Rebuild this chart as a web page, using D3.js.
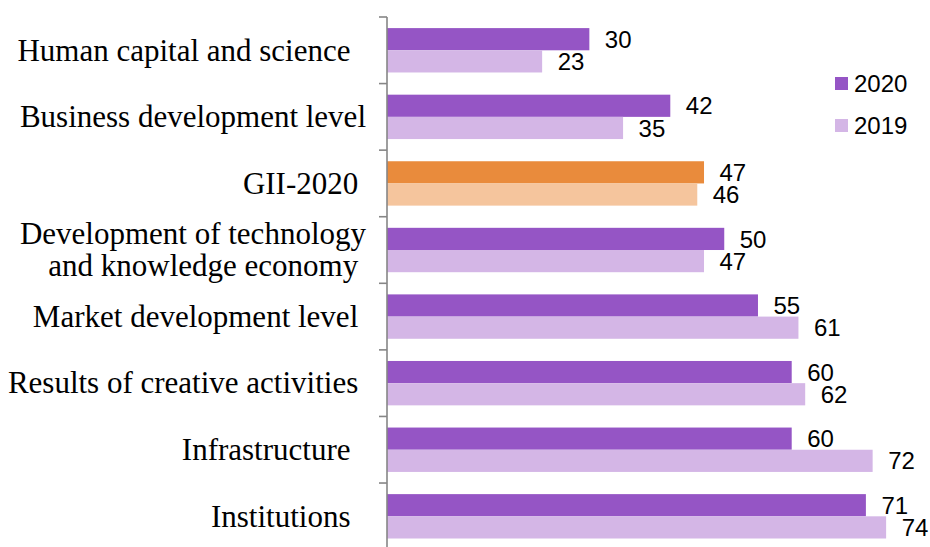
<!DOCTYPE html>
<html>
<head>
<meta charset="utf-8">
<script src="https://cdn.jsdelivr.net/npm/d3@7"></script>
<style>
  html, body { margin: 0; padding: 0; background: #fff; }
  #plot { width: 930px; height: 547px; }
  .cat { font-family: "Liberation Serif", "Times New Roman", serif; font-size: 31px; fill: #000; white-space: pre; }
  .val, .leg { font-family: "Liberation Sans", Arial, sans-serif; fill: #000; }
  .val { font-size: 24px; }
  .leg { font-size: 24px; }
</style>
</head>
<body>
<div id="plot"></div>
<script>
// data
const categories = [
    'Human capital and science  ',
    'Business development level',
    'GII-2020 ',
    'Development of technology\nand knowledge economy ',
    'Market development level ',
    'Results of creative activities ',
    'Infrastructure  ',
    'Institutions  '
];
const values2020 = [30, 42, 47, 50, 55, 60, 60, 71];
const values2019 = [23, 35, 46, 47, 61, 62, 72, 74];
const years = ['2020', '2019'];
const highlightIndex = 2; // GII row drawn in orange

const purple = {'2020': '#9555c5', '2019': '#d4b6e6'};
const orange = {'2020': '#e98b3c', '2019': '#f5c59d'};

const width = 930;
const height = 547;

const svg = d3.select('#plot')
    .append('svg')
    .attr('width', width)
    .attr('height', height);

const x = d3.scaleLinear()
    .domain([0, 80])
    .range([387, 926.6]);

const y = d3.scaleBand()
    .domain(d3.range(categories.length))
    .range([17, 549.6])
    .paddingInner(1 / 3)
    .paddingOuter(1 / 6);

const sub = d3.scaleBand()
    .domain(years)
    .range([0, y.bandwidth()]);

const rows = categories.map((c, i) => ({
    i: i,
    label: c,
    values: [
        {year: '2020', v: values2020[i]},
        {year: '2019', v: values2019[i]}
    ]
}));

// bars
const groups = svg.append('g')
    .selectAll('g')
    .data(rows)
    .join('g')
    .attr('transform', d => `translate(0, ${y(d.i)})`);

groups.selectAll('rect')
    .data(d => d.values.map(v => Object.assign({row: d.i}, v)))
    .join('rect')
    .attr('x', x(0))
    .attr('y', d => sub(d.year))
    .attr('width', d => x(d.v) - x(0))
    .attr('height', sub.bandwidth())
    .attr('fill', d => (d.row === highlightIndex ? orange : purple)[d.year]);

groups.selectAll('text.val')
    .data(d => d.values)
    .join('text')
    .attr('class', 'val')
    .attr('x', d => x(d.v) + 15.5)
    .attr('y', d => sub(d.year) + sub.bandwidth() / 2)
    .attr('dy', '0.36em')
    .text(d => d.v);

// category axis
const axis = svg.append('g').attr('class', 'axis');
const gap = (y.step() - y.bandwidth()) / 2;
const edges = d3.range(categories.length).map(i => y(i) - gap);

axis.append('line')
    .attr('x1', x(0)).attr('x2', x(0))
    .attr('y1', edges[0]).attr('y2', y.range()[1])
    .attr('stroke', '#868686')
    .attr('stroke-width', 1.6);

axis.selectAll('line.tick')
    .data(edges)
    .join('line')
    .attr('class', 'tick')
    .attr('x1', x(0) - 8).attr('x2', x(0))
    .attr('y1', d => d).attr('y2', d => d)
    .attr('stroke', '#868686')
    .attr('stroke-width', 1.6);

const labels = svg.append('g')
    .selectAll('text')
    .data(rows)
    .join('text')
    .attr('class', 'cat')
    .attr('text-anchor', 'end')
    .attr('x', 366)
    .attr('y', d => y(d.i) + y.bandwidth() / 2);

labels.each(function(d) {
    const lines = d.label.split('\n');
    const lineH = 32;
    const t = d3.select(this);
    lines.forEach((line, k) => {
        t.append('tspan')
            .attr('x', 366)
            .attr('dy', k === 0 ? `${0.33 * 31 - (lines.length - 1) * lineH / 2}px` : `${lineH}px`)
            .text(line);
    });
});

// legend
const legend = svg.append('g')
    .selectAll('g')
    .data(years)
    .join('g')
    .attr('transform', (d, i) => `translate(835, ${77 + i * 42})`);

legend.append('rect')
    .attr('width', 13)
    .attr('height', 13)
    .attr('fill', d => purple[d]);

legend.append('text')
    .attr('class', 'leg')
    .attr('x', 19)
    .attr('y', 6.5)
    .attr('dy', '0.36em')
    .text(d => d);
</script>
</body>
</html>
